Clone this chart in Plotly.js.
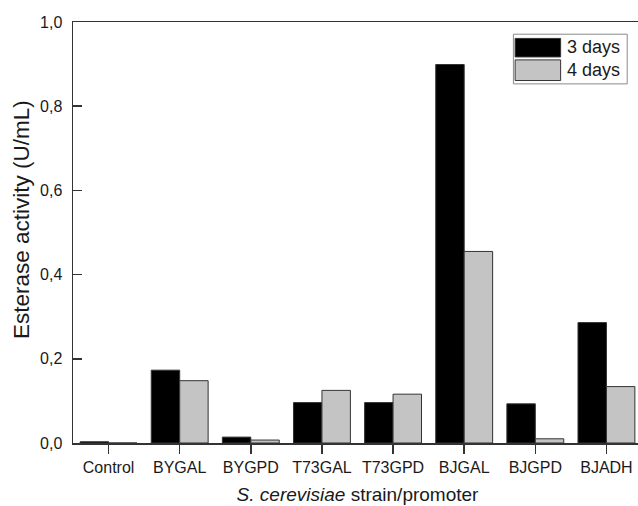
<!DOCTYPE html>
<html>
<head>
<meta charset="utf-8">
<script src="https://cdn.plot.ly/plotly-3.0.1.min.js"></script>
<style>
html,body{margin:0;padding:0;overflow:hidden;background:#fff;}
#chart{width:642px;height:506px;}
</style>
</head>
<body>
<div id="chart"></div>
<script>
// Data
const categories = ["Control","BYGAL","BYGPD","T73GAL","T73GPD","BJGAL","BJGPD","BJADH"];
const days3 = [0.003, 0.173, 0.014, 0.096, 0.096, 0.899, 0.093, 0.286];
const days4 = [0.0, 0.148, 0.007, 0.125, 0.116, 0.455, 0.010, 0.134];
const seriesNames = ["3 days","4 days"];
const yTicks = [0, 0.2, 0.4, 0.6, 0.8, 1.0];
const yTitle = "Esterase activity (U/mL)";
const xTitle = "<i>S. cerevisiae</i> strain/promoter";

const FONT = "Liberation Sans, Arial, sans-serif";
const TXT = "#1a1a1a";
const EDGE = "#333333";

const traces = [
  {type:"bar", name:seriesNames[0], x:categories, y:days3,
   marker:{color:"#000000", line:{color:EDGE, width:1}}, showlegend:false},
  {type:"bar", name:seriesNames[1], x:categories, y:days4,
   marker:{color:"#c4c4c4", line:{color:EDGE, width:1}}, showlegend:false}
];

const layout = {
  width:642, height:506,
  margin:{l:73, r:0, t:22, b:63, pad:0},
  paper_bgcolor:"#fff", plot_bgcolor:"#fff",
  separators:",.",
  barmode:"group", bargap:0.2, bargroupgap:0,
  font:{family:FONT, color:TXT, size:16},
  xaxis:{
    type:"category", range:[-0.5, 7.5],
    showline:true, linecolor:EDGE, linewidth:1.5, mirror:true,
    ticks:"outside", ticklen:9, tickwidth:1.5, tickcolor:EDGE,
    showgrid:false, zeroline:false,
    tickfont:{family:FONT, size:16, color:TXT},
    title:{text:xTitle, font:{family:FONT, size:19, color:TXT}, standoff:13}
  },
  yaxis:{
    range:[0, 1.0], tickvals:yTicks, tickformat:".1f",
    showline:true, linecolor:EDGE, linewidth:1.5, mirror:true,
    ticks:"inside", ticklen:9, tickwidth:1.5, tickcolor:EDGE,
    ticklabelstandoff:6,
    showgrid:false, zeroline:false,
    tickfont:{family:FONT, size:16, color:TXT}
  },
  shapes:[
    {type:"rect", xref:"paper", yref:"paper", x0:0.774, x1:0.974, y0:0.853, y1:0.971,
     line:{color:"#8a8a8a", width:1}, fillcolor:"#ffffff"},
    {type:"rect", xref:"paper", yref:"paper", x0:0.777, x1:0.857, y0:0.917, y1:0.961,
     line:{color:EDGE, width:1}, fillcolor:"#000000"},
    {type:"rect", xref:"paper", yref:"paper", x0:0.777, x1:0.857, y0:0.861, y1:0.910,
     line:{color:EDGE, width:1}, fillcolor:"#c4c4c4"}
  ],
  annotations:[
    {xref:"paper", yref:"paper", x:0.864, y:0.940, xanchor:"left", yanchor:"middle",
     text:seriesNames[0], showarrow:false, font:{family:FONT, size:18, color:TXT}},
    {xref:"paper", yref:"paper", x:0.864, y:0.886, xanchor:"left", yanchor:"middle",
     text:seriesNames[1], showarrow:false, font:{family:FONT, size:18, color:TXT}},
    {xref:"paper", yref:"paper", x:-0.0914, y:0.532, xanchor:"center", yanchor:"middle",
     textangle:-90, text:yTitle, showarrow:false, font:{family:FONT, size:22.5, color:TXT}}
  ]
};

Plotly.newPlot("chart", traces, layout, {displayModeBar:false, staticPlot:true});
</script>
</body>
</html>
